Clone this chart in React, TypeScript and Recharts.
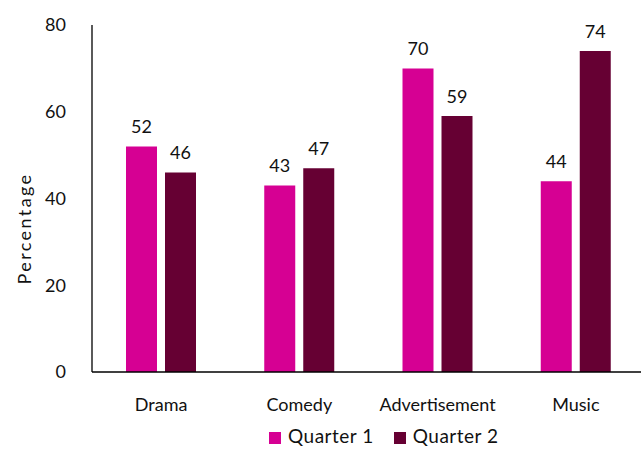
import React from "react";
import { BarChart, Bar, XAxis, YAxis, Legend, LabelList } from "recharts";

const categories = ["Drama", "Comedy", "Advertisement", "Music"];
const quarter1 = [52, 43, 70, 44];
const quarter2 = [46, 47, 59, 74];
const yTicks = [0, 20, 40, 60, 80];

const data = categories.map((c, i) => ({ name: c, q1: quarter1[i], q2: quarter2[i] }));

const FONT = "Lato, 'Open Sans', sans-serif";
const C1 = "#D60093";
const C2 = "#660033";
const FS = 18;

const YLabel = (props: any) => {
  const vb = props.viewBox || {};
  const x = (vb.x ?? 0) + 24;
  const y = (vb.y ?? 0) + (vb.height ?? 0) / 2 + 30;
  return (
    <text
      x={x}
      y={y}
      transform={`rotate(-90, ${x}, ${y})`}
      textAnchor="middle"
      dominantBaseline="central"
      fill="#111"
      fontSize={FS}
      fontFamily={FONT}
      letterSpacing={2.4}
    >
      Percentage
    </text>
  );
};

export default function App() {
  return (
    <div style={{ position: "absolute", left: 0, top: 0, width: 641, height: 449, overflow: "hidden", background: "#fff" }}>
      <BarChart
        width={645}
        height={449}
        data={data}
        margin={{ top: 25, right: 0, left: 0, bottom: 14 }}
        barGap={8}
        barSize={31}
        style={{ fontFamily: FONT }}
      >
        <XAxis
          dataKey="name"
          axisLine={{ stroke: "#000", strokeWidth: 1.3 }}
          tickLine={false}
          tick={{ fill: "#111", fontSize: FS, fontFamily: FONT }}
          tickMargin={20}
          height={40}
        />
        <YAxis
          domain={[0, 80]}
          ticks={yTicks}
          axisLine={{ stroke: "#000", strokeWidth: 1.3 }}
          tickLine={false}
          tick={{ fill: "#111", fontSize: FS, fontFamily: FONT }}
          tickMargin={20}
          width={92}
          label={<YLabel />}
        />
        <Legend
          iconType="square"
          iconSize={12}
          align="left"
          wrapperStyle={{ position: "absolute", top: 424, left: 269, width: 260, fontFamily: FONT, fontSize: 19, color: "#111" }}
          formatter={(v) => <span style={{ color: "#111", marginLeft: 3, marginRight: 10, letterSpacing: 0.5 }}>{v}</span>}
        />
        <Bar dataKey="q1" name="Quarter 1" fill={C1} isAnimationActive={false}>
          <LabelList dataKey="q1" position="top" offset={13} style={{ fill: "#111", fontSize: FS, fontFamily: FONT }} />
        </Bar>
        <Bar dataKey="q2" name="Quarter 2" fill={C2} isAnimationActive={false}>
          <LabelList dataKey="q2" position="top" offset={13} style={{ fill: "#111", fontSize: FS, fontFamily: FONT }} />
        </Bar>
      </BarChart>
    </div>
  );
}
